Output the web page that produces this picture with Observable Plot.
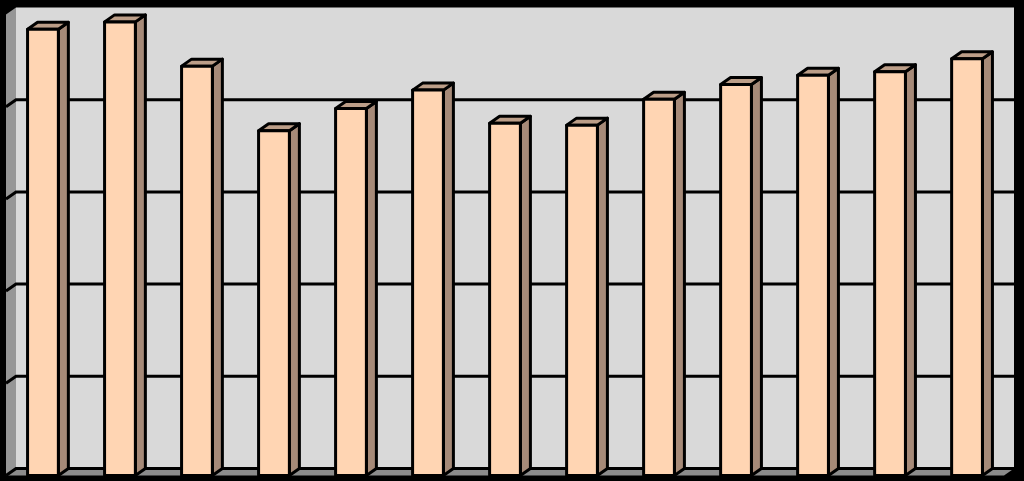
<!DOCTYPE html>
<html><head><meta charset="utf-8">
<script src="https://cdn.jsdelivr.net/npm/d3@7"></script>
<script src="https://cdn.jsdelivr.net/npm/@observablehq/plot@0.6"></script>
<style>html,body{margin:0;padding:0;background:#000;} svg{display:block;}</style>
</head><body><div id="chart"></div>
<script>
// ---- data ----
const categories = ["1","2","3","4","5","6","7","8","9","10","11","12","13"];
const values = [242, 246, 222, 187, 199, 209, 191, 190, 204, 212, 217, 219, 226];
const yTicks = [0, 50, 100, 150, 200, 250];

const data = categories.map((c, i) => ({category: c, value: values[i]}));

// ---- style ----
const DX = 10, DY = -7;
const C = {front: "#FFD5B3", side: "#A68A78", top: "#BC9E88", wall: "#D9D9D9", sideWall: "#969696", floor: "#8C8C8C", line: "#000"};
const SW = 3;

const pts = (arr) => arr.map(p => p.join(",")).join(" ");

function walls(index, scales, vals, dims) {
  const y = scales.y;
  const {width, height, marginLeft, marginRight} = dims;
  const L = marginLeft, R = width - marginRight;
  const y0 = y(yTicks[0]), yT = y(yTicks[yTicks.length - 1]);
  const g = d3.create("svg:g");
  g.append("rect").attr("x", L + DX).attr("y", yT + DY).attr("width", R - L).attr("height", y0 - yT).attr("fill", C.wall);
  g.append("polygon").attr("points", pts([[L, y0], [L, yT], [L + DX, yT + DY], [L + DX, y0 + DY]])).attr("fill", C.sideWall);
  g.append("polygon").attr("points", pts([[L, y0], [L + DX, y0 + DY], [R + DX, y0 + DY], [R, y0]])).attr("fill", C.floor);
  for (const t of yTicks.slice(0, -1)) {
    const yy = y(t);
    g.append("polyline").attr("points", pts([[L, yy], [L + DX, yy + DY], [R + DX, yy + DY]]))
      .attr("fill", "none").attr("stroke", C.line).attr("stroke-width", SW);
  }
  return g.node();
}

function prisms(index, scales, vals, dims) {
  const {x, y} = scales;
  const bw = x.bandwidth();
  const y0 = y(0);
  const g = d3.create("svg:g").attr("stroke", C.line).attr("stroke-width", SW).attr("stroke-linejoin", "round");
  for (const d of data) {
    const x0 = x(d.category), x1 = x0 + bw, yv = y(d.value);
    g.append("polygon").attr("fill", C.side).attr("points", pts([[x1, yv], [x1 + DX, yv + DY], [x1 + DX, y0 + DY], [x1, y0]]));
    g.append("polygon").attr("fill", C.top).attr("points", pts([[x0, yv], [x0 + DX, yv + DY], [x1 + DX, yv + DY], [x1, yv]]));
  }
  return g.node();
}

const chart = Plot.plot({
  width: 1024,
  height: 481,
  marginLeft: 6,
  marginRight: 20,
  marginTop: 14.5,
  marginBottom: 5.5,
  style: {background: "#000"},
  x: {domain: categories, paddingInner: 0.6, paddingOuter: 0.28, axis: null, round: false},
  y: {domain: [0, 250], axis: null},
  marks: [
    walls,
    prisms,
    Plot.barY(data, {x: "category", y: "value", fill: C.front, stroke: C.line, strokeWidth: SW, strokeLinejoin: "round"})
  ]
});
document.getElementById("chart").appendChild(chart);
</script>
</body></html>
